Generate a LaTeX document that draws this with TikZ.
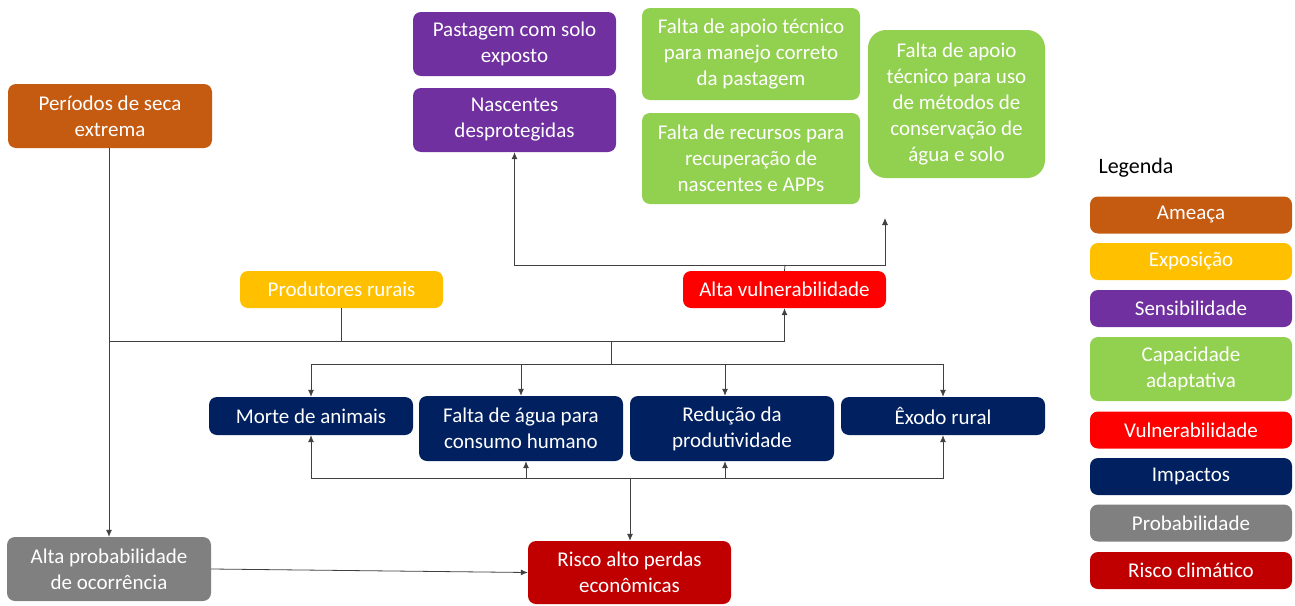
\documentclass[tikz,border=0pt]{standalone}
\usepackage{fontspec}
\setmainfont{Carlito}
\usepackage{xcolor}
\usetikzlibrary{shapes,arrows,arrows.meta,positioning,calc}
\definecolor{ameaca}{RGB}{197,90,17}
\definecolor{exposicao}{RGB}{255,192,0}
\definecolor{sensib}{RGB}{112,48,160}
\definecolor{capadapt}{RGB}{146,208,80}
\definecolor{vulner}{RGB}{255,0,0}
\definecolor{impacto}{RGB}{0,32,96}
\definecolor{probab}{RGB}{128,128,128}
\definecolor{riscoclim}{RGB}{192,0,0}
\definecolor{linegray}{RGB}{64,64,64}

\tikzset{
  box/.style={rounded corners=8pt, text=white, align=center, inner sep=0pt,
    font=\fontsize{21}{26}\selectfont},
  arr/.style={draw=linegray, line width=0.8pt, -{Latex[length=7pt,width=6pt]}},
  ln/.style={draw=linegray, line width=0.8pt}
}

\begin{document}
\begin{tikzpicture}[x=1pt,y=-1pt]
  \useasboundingbox (0,0) rectangle (1295,605);

  % Ameaca and exposicao
  \node[box, fill=ameaca, minimum width=204pt, minimum height=64pt] (seca) at (110,116) {Períodos de seca\\extrema};
  \node[box, fill=exposicao, minimum width=203pt, minimum height=37pt] (produtores) at (341.5,289.5) {Produtores rurais};

  % Sensibilidade
  \node[box, fill=sensib, minimum width=203pt, minimum height=64pt] (pastagem) at (514.5,44) {Pastagem com solo\\exposto};
  \node[box, fill=sensib, minimum width=203pt, minimum height=64pt] (nascentes) at (514.5,120) {Nascentes\\desprotegidas};

  % Capacidade adaptativa
  \node[box, fill=capadapt, minimum width=218pt, minimum height=92pt] (apoiomanejo) at (751,54) {Falta de apoio técnico\\para manejo correto\\da pastagem};
  \node[box, fill=capadapt, minimum width=218pt, minimum height=91pt] (recursos) at (751,158.5) {Falta de recursos para\\recuperação de\\nascentes e APPs};
  \node[box, fill=capadapt, minimum width=177pt, minimum height=148pt, rounded corners=18pt] (apoiouso) at (956.5,104) {Falta de apoio\\técnico para uso\\de métodos de\\conservação de\\água e solo};

  % Vulnerabilidade
  \node[box, fill=vulner, minimum width=203pt, minimum height=37pt] (vuln) at (784.5,289.5) {Alta vulnerabilidade};

  % Impactos
  \node[box, fill=impacto, minimum width=204pt, minimum height=38pt] (morte) at (311,416) {Morte de animais};
  \node[box, fill=impacto, minimum width=204pt, minimum height=65pt] (agua) at (521,428.5) {Falta de água para\\consumo humano};
  \node[box, fill=impacto, minimum width=204pt, minimum height=65pt] (reducao) at (732,428.5) {Redução da\\produtividade};
  \node[box, fill=impacto, minimum width=204pt, minimum height=38pt] (exodo) at (943,416) {Êxodo rural};

  % Probabilidade and risco
  \node[box, fill=probab, minimum width=204pt, minimum height=64pt] (prob) at (109,569) {Alta probabilidade\\de ocorrência};
  \node[box, fill=riscoclim, minimum width=203pt, minimum height=63pt] (risco) at (629.5,572.5) {Risco alto perdas\\econômicas};

  % Junctions
  \coordinate (hub) at (109,341);
  \coordinate (split) at (611,341);
  \coordinate (impsplit) at (611,364);
  \coordinate (bot) at (630,478);
  \coordinate (vtop) at (785,265);
  \coordinate (capend) at (885,218);

  % Connectors
  \draw[arr] (seca.south -| hub) -- (prob.north -| hub);
  \draw[arr] (hub) -| (vuln.south);
  \draw[ln] (produtores.south) -- (produtores.south |- hub);
  \draw[ln] (split) -- (impsplit);
  \draw[arr] (impsplit) -| (morte.north);
  \draw[arr] (impsplit) -| (agua.north);
  \draw[arr] (impsplit) -| ([xshift=-7pt]reducao.north);
  \draw[arr] (impsplit) -| (exodo.north);
  \draw[arr] (bot) -- (bot |- risco.north);
  \draw[arr] (bot) -| (morte.south);
  \draw[arr] (bot) -| ([xshift=5pt]agua.south);
  \draw[arr] (bot) -| ([xshift=-7pt]reducao.south);
  \draw[arr] (bot) -| (exodo.south);
  \draw[arr] (prob.east) -- (risco.west);
  \draw[ln] (vuln.north) -- (vtop);
  \draw[arr] (vtop) -| (nascentes.south);
  \draw[arr] (vtop) -| (capend);

  % Legenda
  \node[anchor=west, font=\fontsize{22}{26}\selectfont] (legenda) at (1095,168) {Legenda};
  \node[box, fill=ameaca, minimum width=202pt, minimum height=37pt] (legameaca) at (1191,215) {Ameaça};
  \node[box, fill=exposicao, minimum width=202pt, minimum height=37pt] (legexpo) at (1191,261.5) {Exposição};
  \node[box, fill=sensib, minimum width=202pt, minimum height=37pt] (legsens) at (1191,308.5) {Sensibilidade};
  \node[box, fill=capadapt, minimum width=202pt, minimum height=64pt] (legcap) at (1191,369) {Capacidade\\adaptativa};
  \node[box, fill=vulner, minimum width=202pt, minimum height=37pt] (legvuln) at (1191,430) {Vulnerabilidade};
  \node[box, fill=impacto, minimum width=202pt, minimum height=37pt] (legimp) at (1191,476.5) {Impactos};
  \node[box, fill=probab, minimum width=202pt, minimum height=37pt] (legprob) at (1191,523) {Probabilidade};
  \node[box, fill=riscoclim, minimum width=202pt, minimum height=37pt] (legrisco) at (1191,570.5) {Risco climático};
\end{tikzpicture}
\end{document}
